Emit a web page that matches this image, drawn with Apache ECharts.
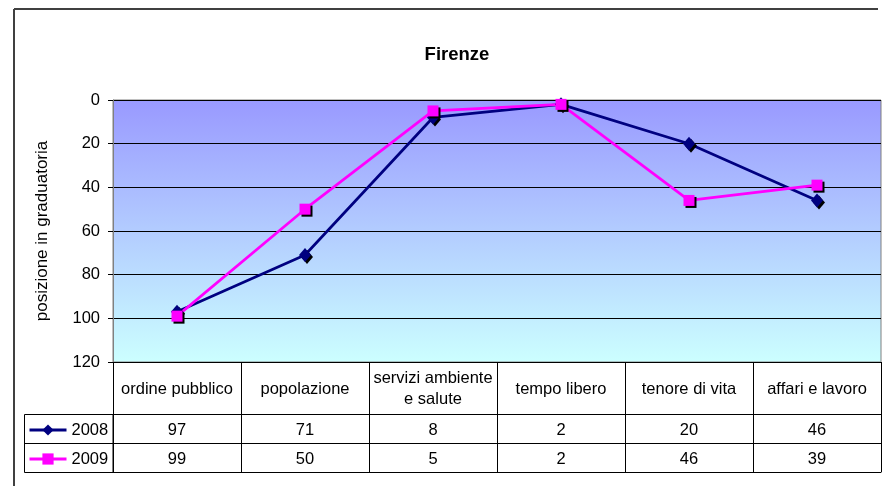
<!DOCTYPE html>
<html>
<head>
<meta charset="utf-8">
<script src="https://cdn.jsdelivr.net/npm/echarts@6/dist/echarts.min.js"></script>
<style>
html,body{margin:0;padding:0;background:#fff;}
#chart{width:888px;height:486px;}
</style>
</head>
<body>
<div id="chart"></div>
<script>
const titleText = 'Firenze';
const yAxisName = 'posizione in graduatoria';
const categories = ['ordine pubblico', 'popolazione', 'servizi ambiente\ne salute', 'tempo libero', 'tenore di vita', 'affari e lavoro'];
const seriesNames = ['2008', '2009'];
const values2008 = [97, 71, 8, 2, 20, 46];
const values2009 = [99, 50, 5, 2, 46, 39];
const yMin = 0, yMax = 120, yStep = 20;

const FONT = 'Liberation Sans, Arial, sans-serif';
const chart = echarts.init(document.getElementById('chart'), null, {renderer: 'canvas'});

function tableAxis(offset, labelFn, tickLen, showLabel, margin, lineHeight) {
  return {
    type: 'category',
    data: categories,
    position: 'bottom',
    offset: offset,
    boundaryGap: true,
    axisLine: {show: true, onZero: false, lineStyle: {color: '#000', width: 1}},
    axisTick: {show: tickLen > 0, interval: 0, length: tickLen, inside: false, lineStyle: {color: '#000', width: 1}},
    axisLabel: {
      show: showLabel, interval: 0, formatter: labelFn,
      fontFamily: FONT, fontSize: 16.5, color: '#000',
      margin: margin, verticalAlign: 'middle', lineHeight: lineHeight
    },
    splitLine: {show: false}
  };
}

const legendCommon = {
  orient: 'vertical', left: 28, padding: 0,
  itemWidth: 37, itemHeight: 14,
  lineStyle: {width: 3},
  itemStyle: {shadowColor: 'rgba(0,0,0,0)', shadowOffsetX: 0, shadowOffsetY: 0},
  textStyle: {fontFamily: FONT, fontSize: 16.5, color: '#000', lineHeight: 18}
};

const option = {
  animation: false,
  backgroundColor: '#fff',
  title: {
    text: titleText, left: 452, top: 40, textAlign: 'center',
    textStyle: {fontFamily: FONT, fontSize: 18.5, fontWeight: 'bold', color: '#000'}
  },
  legend: [
    Object.assign({data: [seriesNames[0]], top: 421}, legendCommon),
    Object.assign({data: [seriesNames[1]], top: 450}, legendCommon)
  ],
  grid: {
    left: 113, right: 7, top: 100, bottom: 124,
    show: true,
    borderColor: '#808080', borderWidth: 1,
    backgroundColor: {
      type: 'linear', x: 0, y: 0, x2: 0, y2: 1,
      colorStops: [{offset: 0, color: '#9999FF'}, {offset: 1, color: '#CCFFFF'}]
    }
  },
  xAxis: [
    tableAxis(0, function (v) { return v; }, 52, true, 27, 21),
    tableAxis(52, function (v, i) { return String(values2008[i]); }, 29, true, 16.5, 18),
    tableAxis(81, function (v, i) { return String(values2009[i]); }, 29, true, 16.5, 18),
    tableAxis(110, null, 0, false, 0, 18)
  ],
  yAxis: {
    type: 'value', inverse: true,
    min: yMin, max: yMax, interval: yStep,
    name: yAxisName, nameLocation: 'middle', nameRotate: 90, nameGap: 62,
    nameTextStyle: {fontFamily: FONT, fontSize: 17, color: '#000'},
    axisLine: {show: true, lineStyle: {color: '#808080', width: 1}},
    axisTick: {show: true, length: 5, inside: false, lineStyle: {color: '#000'}},
    axisLabel: {fontFamily: FONT, fontSize: 16.5, color: '#000', margin: 13},
    splitLine: {show: true, lineStyle: {color: '#000', width: 1}}
  },
  series: [
    {
      name: seriesNames[0], type: 'line', data: values2008,
      symbol: 'diamond', symbolSize: [12, 14],
      itemStyle: {color: '#000080', shadowColor: '#000', shadowOffsetX: 2, shadowOffsetY: 2, shadowBlur: 0},
      lineStyle: {color: '#000080', width: 2.7}
    },
    {
      name: seriesNames[1], type: 'line', data: values2009,
      symbol: 'rect', symbolSize: 11,
      itemStyle: {color: '#FF00FF', shadowColor: '#000', shadowOffsetX: 2, shadowOffsetY: 2, shadowBlur: 0},
      lineStyle: {color: '#FF00FF', width: 2.7}
    }
  ],
  graphic: [
    {type: 'line', shape: {x1: 14, y1: 9, x2: 14, y2: 486}, style: {stroke: '#404040', lineWidth: 2}},
    {type: 'line', shape: {x1: 14, y1: 9, x2: 878, y2: 9}, style: {stroke: '#404040', lineWidth: 2}},
    {type: 'rect', shape: {x: 24.5, y: 414.5, width: 88.5, height: 58}, style: {fill: 'none', stroke: '#000', lineWidth: 1}},
    {type: 'line', shape: {x1: 24.5, y1: 443.5, x2: 113, y2: 443.5}, style: {stroke: '#000', lineWidth: 1}}
  ]
};
chart.setOption(option);
</script>
</body>
</html>
